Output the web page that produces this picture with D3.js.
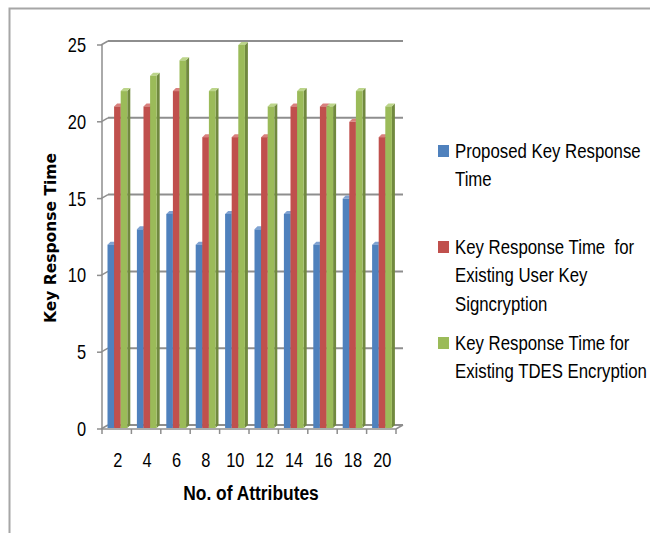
<!DOCTYPE html>
<html>
<head>
<meta charset="utf-8">
<script src="https://cdn.jsdelivr.net/npm/d3@7"></script>
<style>
  html, body { margin: 0; padding: 0; background: #fff; }
  svg { display: block; }
  text { white-space: pre; }
</style>
</head>
<body>
<svg id="chart" width="650" height="533"></svg>
<script>
// Key response time per number of attributes
const categories = ["2", "4", "6", "8", "10", "12", "14", "16", "18", "20"];
const proposedTime = [12, 13, 14, 12, 14, 13, 14, 12, 15, 12];
const userKeyTime = [21, 21, 22, 19, 19, 19, 21, 21, 20, 19];
const tdesTime = [22, 23, 24, 22, 25, 21, 22, 21, 22, 21];
const seriesKeys = ["proposed", "userKey", "tdes"];
const legendLines = [
  ["Proposed Key Response", "Time"],
  ["Key Response Time  for", "Existing User Key", "Signcryption"],
  ["Key Response Time for", "Existing TDES Encryption"]
];
const yTicks = [0, 5, 10, 15, 20, 25];
const xTitle = "No. of Attributes";
const yTitle = "Key Response Time";

const seriesValues = { proposed: proposedTime, userKey: userKeyTime, tdes: tdesTime };
const palette = {
  proposed: { front: "#4f81bd", side: "#3a6594", top: "#7fa2d2" },
  userKey:  { front: "#c0504d", side: "#913b39", top: "#d9807d" },
  tdes:     { front: "#9bbb59", side: "#71893f", top: "#bcd58a" }
};

const svg = d3.select("#chart");

// outer frame
svg.append("rect")
  .attr("x", 9.5).attr("y", 8.5).attr("width", 700).attr("height", 600)
  .attr("fill", "none").attr("stroke", "#a6a6a6").attr("stroke-width", 2);

const x0 = d3.scaleBand().domain(categories).range([102, 396]).padding(0);
const x1 = d3.scaleBand().domain(seriesKeys).range([5.5, 5.5 + 3 * 6.6]).padding(0);
const y = d3.scaleLinear().domain([0, 25]).range([429, 45]);

const wallDx = 6, wallDy = 4;   // depth of the back wall
const barDx = 3, barDy = 3;     // depth of each column
const gridColor = "#8e8e8e";

const plot = svg.append("g");

// back wall gridlines and left side-wall connectors
const grid = plot.append("g");
grid.selectAll("line.back").data(yTicks).join("line")
  .attr("x1", 102 + wallDx).attr("x2", 396 + wallDx + 1)
  .attr("y1", d => y(d) - wallDy).attr("y2", d => y(d) - wallDy)
  .attr("stroke", gridColor).attr("stroke-width", 2);
grid.selectAll("line.side").data(yTicks).join("line")
  .attr("x1", 101).attr("x2", 102 + wallDx)
  .attr("y1", d => y(d)).attr("y2", d => y(d) - wallDy)
  .attr("stroke", gridColor).attr("stroke-width", 1.5);
grid.selectAll("line.tick").data(yTicks).join("line")
  .attr("x1", 97).attr("x2", 102)
  .attr("y1", d => y(d)).attr("y2", d => y(d))
  .attr("stroke", gridColor).attr("stroke-width", 1.5);

// floor: front edge, right edge and category ticks
const floorY = y(0);
plot.append("path")
  .attr("d", `M102,${floorY}H396L${396 + wallDx + 1},${floorY - wallDy}`)
  .attr("fill", "none").attr("stroke", gridColor).attr("stroke-width", 1.5);
plot.append("line")
  .attr("x1", 102).attr("x2", 102).attr("y1", y(25)).attr("y2", floorY + 5)
  .attr("stroke", gridColor).attr("stroke-width", 1.5);
const boundaries = categories.map(c => x0(c)).concat([x0(categories[categories.length - 1]) + x0.bandwidth()]);
plot.selectAll("line.cat").data(boundaries.slice(1)).join("line")
  .attr("x1", d => d).attr("x2", d => d)
  .attr("y1", floorY).attr("y2", floorY + 5)
  .attr("stroke", gridColor).attr("stroke-width", 1.5);

// 3D columns
const barW = x1.bandwidth();
const bars = [];
categories.forEach((c, i) => {
  seriesKeys.forEach(k => {
    bars.push({ cat: c, key: k, value: seriesValues[k][i] });
  });
});
const barG = plot.append("g").selectAll("g").data(bars).join("g");
barG.each(function (d) {
  const g = d3.select(this);
  const xl = x0(d.cat) + x1(d.key);
  const xr = xl + barW;
  const yt = y(d.value);
  const yb = floorY - 1;
  const col = palette[d.key];
  // side face
  g.append("path")
    .attr("d", `M${xr},${yb}L${xr + barDx},${yb - barDy}L${xr + barDx},${yt - barDy}L${xr},${yt}Z`)
    .attr("fill", col.side);
  // top face
  g.append("path")
    .attr("d", `M${xl},${yt}L${xl + barDx},${yt - barDy}L${xr + barDx},${yt - barDy}L${xr},${yt}Z`)
    .attr("fill", col.top);
  // front face
  g.append("rect")
    .attr("x", xl).attr("y", yt).attr("width", barW).attr("height", yb - yt)
    .attr("fill", col.front);
});

// text helper with horizontal condensing
function label(parent, txt, xPos, yPos, opts) {
  const o = Object.assign({ size: 20, sx: 0.82, anchor: "start", weight: "normal", family: "'Liberation Sans', Arial, sans-serif" }, opts || {});
  return parent.append("text")
    .attr("transform", `translate(${xPos},${yPos}) scale(${o.sx},1)`)
    .attr("text-anchor", o.anchor)
    .attr("font-family", o.family)
    .attr("font-size", o.size)
    .attr("font-weight", o.weight)
    .attr("fill", "#000")
    .text(txt);
}

// y tick labels
const yLab = svg.append("g");
yTicks.forEach(t => label(yLab, String(t), 86, y(t) + 7, { anchor: "end" }));

// category labels
const xLab = svg.append("g");
categories.forEach(c => label(xLab, c, x0(c) + x0.bandwidth() / 2 + 1, 467, { anchor: "middle" }));

// axis titles
label(svg, xTitle, 251, 500, { anchor: "middle", weight: "bold", size: 20, sx: 0.87 });
svg.append("text")
  .attr("transform", "translate(56,238) rotate(-90)")
  .attr("text-anchor", "middle")
  .attr("font-family", "'DejaVu Sans', Verdana, sans-serif")
  .attr("font-size", 15.5)
  .attr("font-weight", "bold")
  .attr("fill", "#000")
  .text(yTitle);

// legend
const legend = svg.append("g");
const legendTop = [145, 241, 337];
seriesKeys.forEach((k, i) => {
  const top = legendTop[i];
  legend.append("rect")
    .attr("x", 438).attr("y", top).attr("width", 11).attr("height", 12)
    .attr("fill", palette[k].front);
  legendLines[i].forEach((line, j) => {
    label(legend, line, 455, top + 13 + j * 28.3, { size: 20, sx: 0.84 });
  });
});
</script>
</body>
</html>
